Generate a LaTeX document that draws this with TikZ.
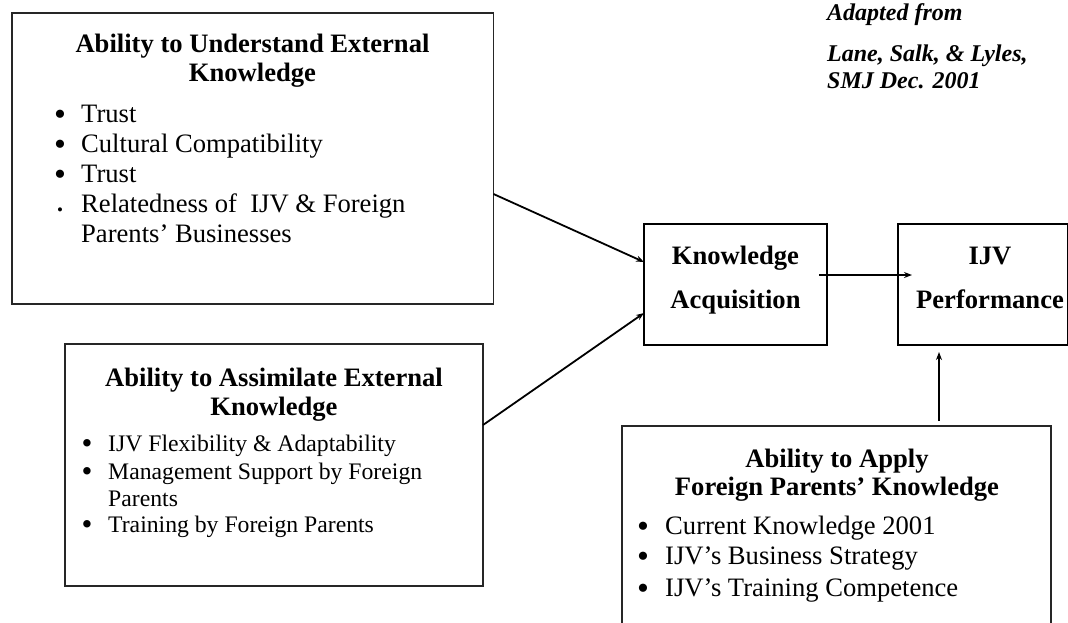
\documentclass[tikz,border=0pt]{standalone}
\usepackage{fontspec}
\setmainfont{Liberation Serif}
\usetikzlibrary{arrows.meta}
\begin{document}
\begin{tikzpicture}[x=1pt,y=-1pt,
  box/.style={draw=black!85, line width=1.1pt, inner sep=0pt, outer sep=0pt, anchor=north west},
  ttl/.style={font=\fontsize{26.6}{30}\selectfont\bfseries, inner sep=0pt, anchor=base},
  itm/.style={font=\fontsize{26.6}{30}\selectfont, inner sep=0pt, anchor=base west},
  itms/.style={font=\fontsize{23.7}{27}\selectfont, inner sep=0pt, anchor=base west},
  bul/.style={font=\fontsize{34}{38}\selectfont, inner sep=0pt, text height=1pt, text depth=1pt, anchor=center},
  buls/.style={font=\fontsize{31}{34}\selectfont, inner sep=0pt, text height=1pt, text depth=1pt, anchor=center},
  note/.style={font=\fontsize{24}{27}\selectfont\bfseries\itshape, inner sep=0pt, anchor=base west},
  conn/.style={line width=1.8pt, -{Stealth[length=8pt,width=6pt]}}]
\useasboundingbox (0,0) rectangle (1068,622);

% boxes
\node[box, minimum width=481.5pt, minimum height=291pt] (b1) at (12,13) {};
\node[box, minimum width=418pt, minimum height=242pt] (b2) at (65,344) {};
\node[box, draw=black, minimum width=183pt, minimum height=121pt] (ka) at (644,224) {};
\node[box, draw=black, minimum width=169.5pt, minimum height=121pt] (ijv) at (898,224) {};
\node[box, minimum width=429pt, minimum height=206pt] (b3) at (622,426) {};

% box 1 text
\node[ttl] (t1a) at (252.5,52) {Ability to Understand External};
\node[ttl] (t1b) at (252.5,81) {Knowledge};
\node[bul] (p1a) at (60,125) {•};
\node[itm] (i1a) at (81,122) {Trust};
\node[bul] (p1b) at (60,155) {•};
\node[itm] (i1b) at (81,152) {Cultural Compatibility};
\node[bul] (p1c) at (60,185) {•};
\node[itm] (i1c) at (81,182) {Trust};
\node[bul, font=\fontsize{17}{20}\selectfont] (p1d) at (60,215) {•};
\node[itm] (i1d) at (81,212) {Relatedness of\ \ IJV \& Foreign};
\node[itm] (i1e) at (81,242) {Parents’ Businesses};

% box 2 text
\node[ttl] (t2a) at (274,386) {Ability to Assimilate External};
\node[ttl] (t2b) at (274,415) {Knowledge};
\node[buls] (p2a) at (87,453) {•};
\node[itms] (i2a) at (108,451) {IJV Flexibility \& Adaptability};
\node[buls] (p2b) at (87,481) {•};
\node[itms] (i2b) at (108,479) {Management Support by Foreign};
\node[itms] (i2c) at (108,506) {Parents};
\node[buls] (p2d) at (87,534) {•};
\node[itms] (i2d) at (108,532) {Training by Foreign Parents};

% box 3 text
\node[ttl] (t3a) at (837,467) {Ability to Apply};
\node[ttl] (t3b) at (837,495) {Foreign Parents’ Knowledge};
\node[bul] (p3a) at (643,537) {•};
\node[itm] (i3a) at (665,534) {Current Knowledge 2001};
\node[bul] (p3b) at (643,567) {•};
\node[itm] (i3b) at (665,564) {IJV’s Business Strategy};
\node[bul] (p3c) at (643,599) {•};
\node[itm] (i3c) at (665,596) {IJV’s Training Competence};

% KA and IJV text
\node[ttl] (ka1) at (735.5,264) {Knowledge};
\node[ttl] (ka2) at (735.5,308) {Acquisition};
\node[ttl] (ij1) at (990,264) {IJV};
\node[ttl] (ij2) at (990,308) {Performance};

% note
\node[note] (n1) at (827,20) {Adapted from};
\node[note] (n2) at (827,61) {Lane, Salk, \& Lyles,};
\node[note] (n3) at (827,88) {SMJ Dec. 2001};

% connectors
\draw[conn] ([yshift=-35.5pt]b1.east) -- ([yshift=22.5pt]ka.west);
\draw[conn] ([yshift=40pt]b2.east) -- ([yshift=-28.5pt]ka.west);
\draw[conn] ([xshift=-8pt,yshift=9.5pt]ka.east) -- ([xshift=14pt,yshift=9.5pt]ijv.west);
\draw[conn] ([xshift=102.5pt,yshift=5pt]b3.north) -- ([xshift=-43.75pt,yshift=-7pt]ijv.south);
\end{tikzpicture}
\end{document}
